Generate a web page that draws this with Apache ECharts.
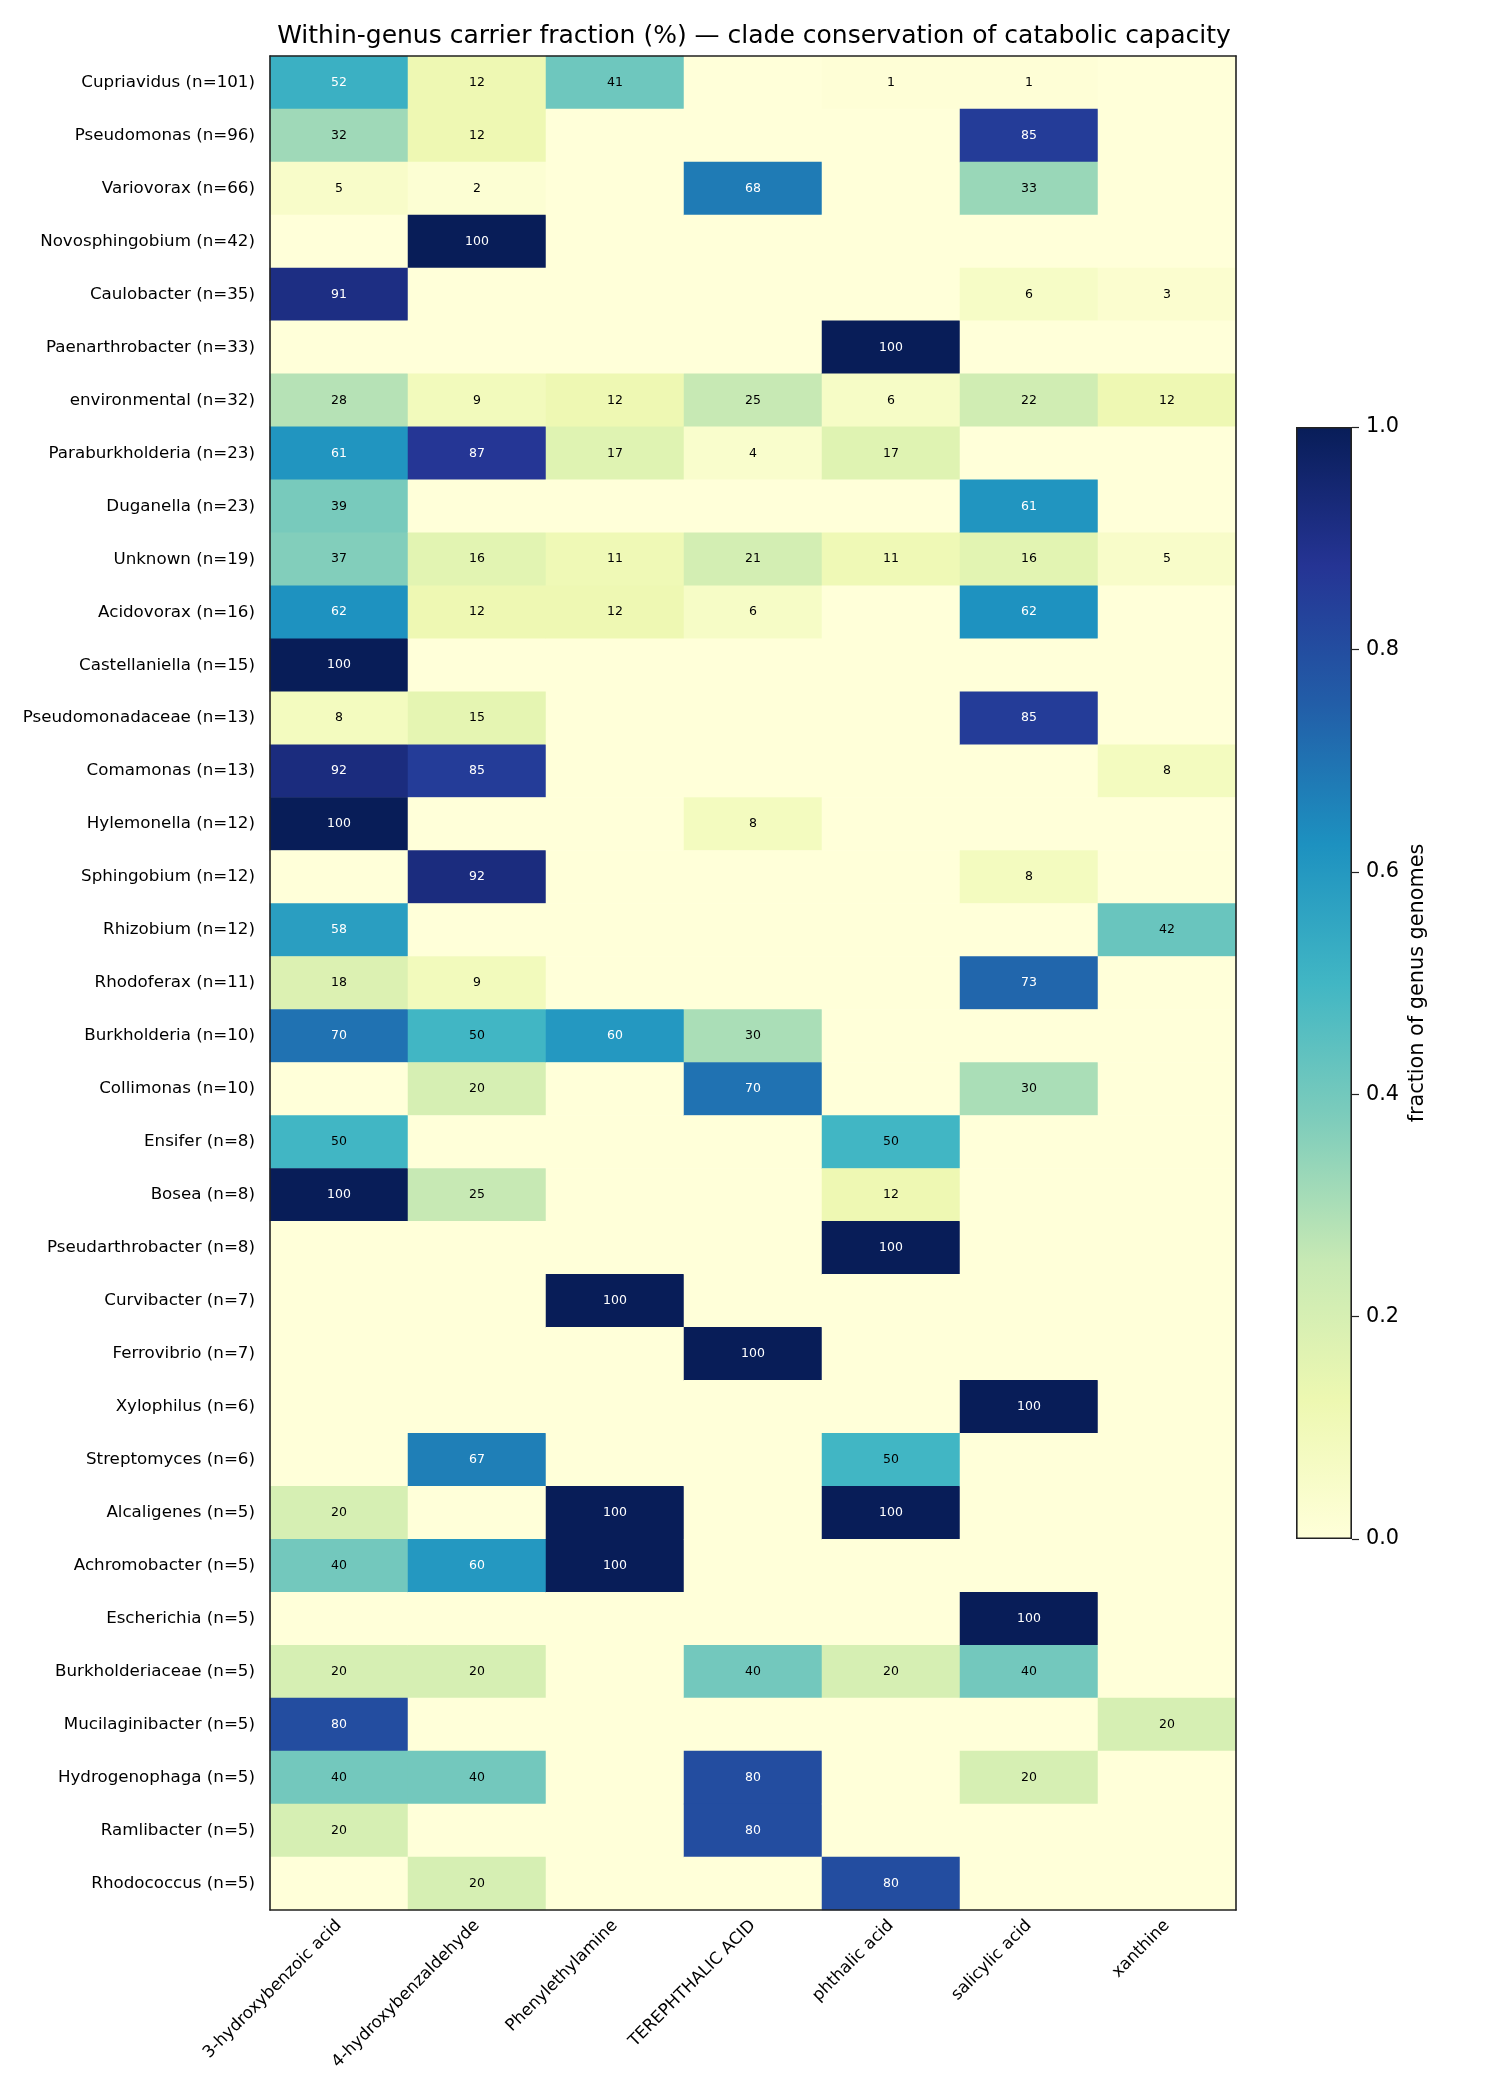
<!DOCTYPE html>
<html>
<head>
<meta charset="utf-8">
<script src="https://cdn.jsdelivr.net/npm/echarts@6/dist/echarts.min.js"></script>
<style>
  html, body { margin: 0; padding: 0; background: #fff; }
  #chart { width: 1500px; height: 2100px; }
</style>
</head>
<body>
<div id="chart"></div>
<script>
// genera (rows, top to bottom) and compounds (columns)
var genera = [
  'Cupriavidus (n=101)', 'Pseudomonas (n=96)', 'Variovorax (n=66)', 'Novosphingobium (n=42)',
  'Caulobacter (n=35)', 'Paenarthrobacter (n=33)', 'environmental (n=32)', 'Paraburkholderia (n=23)',
  'Duganella (n=23)', 'Unknown (n=19)', 'Acidovorax (n=16)', 'Castellaniella (n=15)',
  'Pseudomonadaceae (n=13)', 'Comamonas (n=13)', 'Hylemonella (n=12)', 'Sphingobium (n=12)',
  'Rhizobium (n=12)', 'Rhodoferax (n=11)', 'Burkholderia (n=10)', 'Collimonas (n=10)',
  'Ensifer (n=8)', 'Bosea (n=8)', 'Pseudarthrobacter (n=8)', 'Curvibacter (n=7)',
  'Ferrovibrio (n=7)', 'Xylophilus (n=6)', 'Streptomyces (n=6)', 'Alcaligenes (n=5)',
  'Achromobacter (n=5)', 'Escherichia (n=5)', 'Burkholderiaceae (n=5)', 'Mucilaginibacter (n=5)',
  'Hydrogenophaga (n=5)', 'Ramlibacter (n=5)', 'Rhodococcus (n=5)'
];
var compounds = ['3-hydroxybenzoic acid', '4-hydroxybenzaldehyde', 'Phenylethylamine',
  'TEREPHTHALIC ACID', 'phthalic acid', 'salicylic acid', 'xanthine'];

// carrier fraction (%) per compound, one entry per genus in the order above
var hydroxybenzoic = [52,32,5,0,91,0,28,61,39,37,62,100,8,92,100,0,58,18,70,0,50,100,0,0,0,0,0,20,40,0,20,80,40,20,0];
var hydroxybenzaldehyde = [12,12,2,100,0,0,9,87,0,16,12,0,15,85,0,92,0,9,50,20,0,25,0,0,0,0,67,0,60,0,20,0,40,0,20];
var phenylethylamine = [41,0,0,0,0,0,12,17,0,11,12,0,0,0,0,0,0,0,60,0,0,0,0,100,0,0,0,100,100,0,0,0,0,0,0];
var terephthalic = [0,0,68,0,0,0,25,4,0,21,6,0,0,0,8,0,0,0,30,70,0,0,0,0,100,0,0,0,0,0,40,0,80,80,0];
var phthalic = [1,0,0,0,0,100,6,17,0,11,0,0,0,0,0,0,0,0,0,0,50,12,100,0,0,0,50,100,0,0,20,0,0,0,80];
var salicylic = [1,85,33,0,6,0,22,0,61,16,62,0,85,0,0,8,0,73,0,30,0,0,0,0,0,100,0,0,0,100,40,0,20,0,0];
var xanthine = [0,0,0,0,3,0,12,0,0,5,0,0,0,8,0,0,42,0,0,0,0,0,0,0,0,0,0,0,0,0,0,20,0,0,0];

var columns = [hydroxybenzoic, hydroxybenzaldehyde, phenylethylamine, terephthalic, phthalic, salicylic, xanthine];
var cbTicks = [0, 0.2, 0.4, 0.6, 0.8, 1.0];

// matplotlib YlGnBu
var ylgnbu = ['#ffffd9', '#edf8b1', '#c7e9b4', '#7fcdbb', '#41b6c4', '#1d91c0', '#225ea8', '#253494', '#081d58'];

var cells = [];
columns.forEach(function (col, x) {
  col.forEach(function (v, y) {
    cells.push({
      value: [x, y, v],
      label: { color: v > 50 ? '#ffffff' : '#000000' }
    });
  });
});

var font = 'DejaVu Sans';
var chart = echarts.init(document.getElementById('chart'));

var gradStops = ylgnbu.map(function (c, i) {
  return { offset: i / (ylgnbu.length - 1), color: c };
});

chart.setOption({
  animation: false,
  backgroundColor: '#fff',
  textStyle: { fontFamily: font },
  graphic: [{
    type: 'text',
    x: 754, y: 36,
    style: {
      text: 'Within-genus carrier fraction (%) \u2014 clade conservation of catabolic capacity',
      font: '25px "DejaVu Sans"',
      fill: '#000',
      textAlign: 'center',
      textVerticalAlign: 'middle'
    }
  }],
  grid: [
    { left: 270, top: 56, width: 966, height: 1854 },
    { left: 1296, top: 427, width: 56, height: 1112 }
  ],
  visualMap: {
    show: false,
    seriesIndex: 0,
    min: 0,
    max: 100,
    inRange: { color: ylgnbu }
  },
  xAxis: [
    {
      gridIndex: 0, type: 'category', data: compounds, position: 'bottom', z: 10,
      axisLine: { lineStyle: { color: '#222', width: 1.6 } },
      axisTick: { alignWithLabel: true, length: 7, lineStyle: { color: '#222', width: 1.2 } },
      axisLabel: { rotate: 45, fontSize: 16.7, color: '#000', margin: 13, fontFamily: font },
      splitLine: { show: false }
    },
    {
      gridIndex: 0, type: 'category', data: compounds, position: 'top', z: 10,
      axisLine: { lineStyle: { color: '#222', width: 1.6 } },
      axisTick: { show: false }, axisLabel: { show: false }
    },
    {
      gridIndex: 1, type: 'category', data: ['cb'],
      axisLine: { show: false }, axisTick: { show: false }, axisLabel: { show: false }
    }
  ],
  yAxis: [
    {
      gridIndex: 0, type: 'category', data: genera, inverse: true, z: 10,
      axisLine: { lineStyle: { color: '#222', width: 1.6 } },
      axisTick: { alignWithLabel: true, length: 7, lineStyle: { color: '#222', width: 1.2 } },
      axisLabel: { fontSize: 16.7, color: '#000', margin: 15, fontFamily: font },
      splitLine: { show: false }
    },
    {
      gridIndex: 0, type: 'category', data: genera, inverse: true, position: 'right', z: 10,
      axisLine: { lineStyle: { color: '#222', width: 1.6 } },
      axisTick: { show: false }, axisLabel: { show: false }
    },
    {
      gridIndex: 1, type: 'value', min: 0, max: 1, interval: 0.2, position: 'right',
      axisLine: { show: false },
      axisTick: { show: true, length: 7, lineStyle: { color: '#222', width: 1.2 } },
      axisLabel: {
        fontSize: 20.8, color: '#000', margin: 14, fontFamily: font,
        formatter: function (v) { return v.toFixed(1); }
      },
      splitLine: { show: false },
      name: 'fraction of genus genomes',
      nameLocation: 'middle',
      nameRotate: 90,
      nameGap: 55,
      nameTextStyle: { fontSize: 20.8, color: '#000', fontFamily: font }
    }
  ],
  series: [
    {
      type: 'heatmap',
      xAxisIndex: 0, yAxisIndex: 0,
      data: cells,
      label: {
        show: true,
        fontSize: 12.5,
        fontFamily: font,
        formatter: function (p) { return p.value[2] === 0 ? '' : String(p.value[2]); }
      },
      itemStyle: { borderWidth: 0 },
      emphasis: { disabled: true }
    },
    {
      type: 'bar',
      xAxisIndex: 2, yAxisIndex: 2,
      data: [cbTicks[cbTicks.length - 1]],
      barWidth: '100%',
      itemStyle: {
        color: new echarts.graphic.LinearGradient(0, 1, 0, 0, gradStops),
        borderColor: '#222',
        borderWidth: 1.6
      },
      silent: true
    }
  ]
});
</script>
</body>
</html>
